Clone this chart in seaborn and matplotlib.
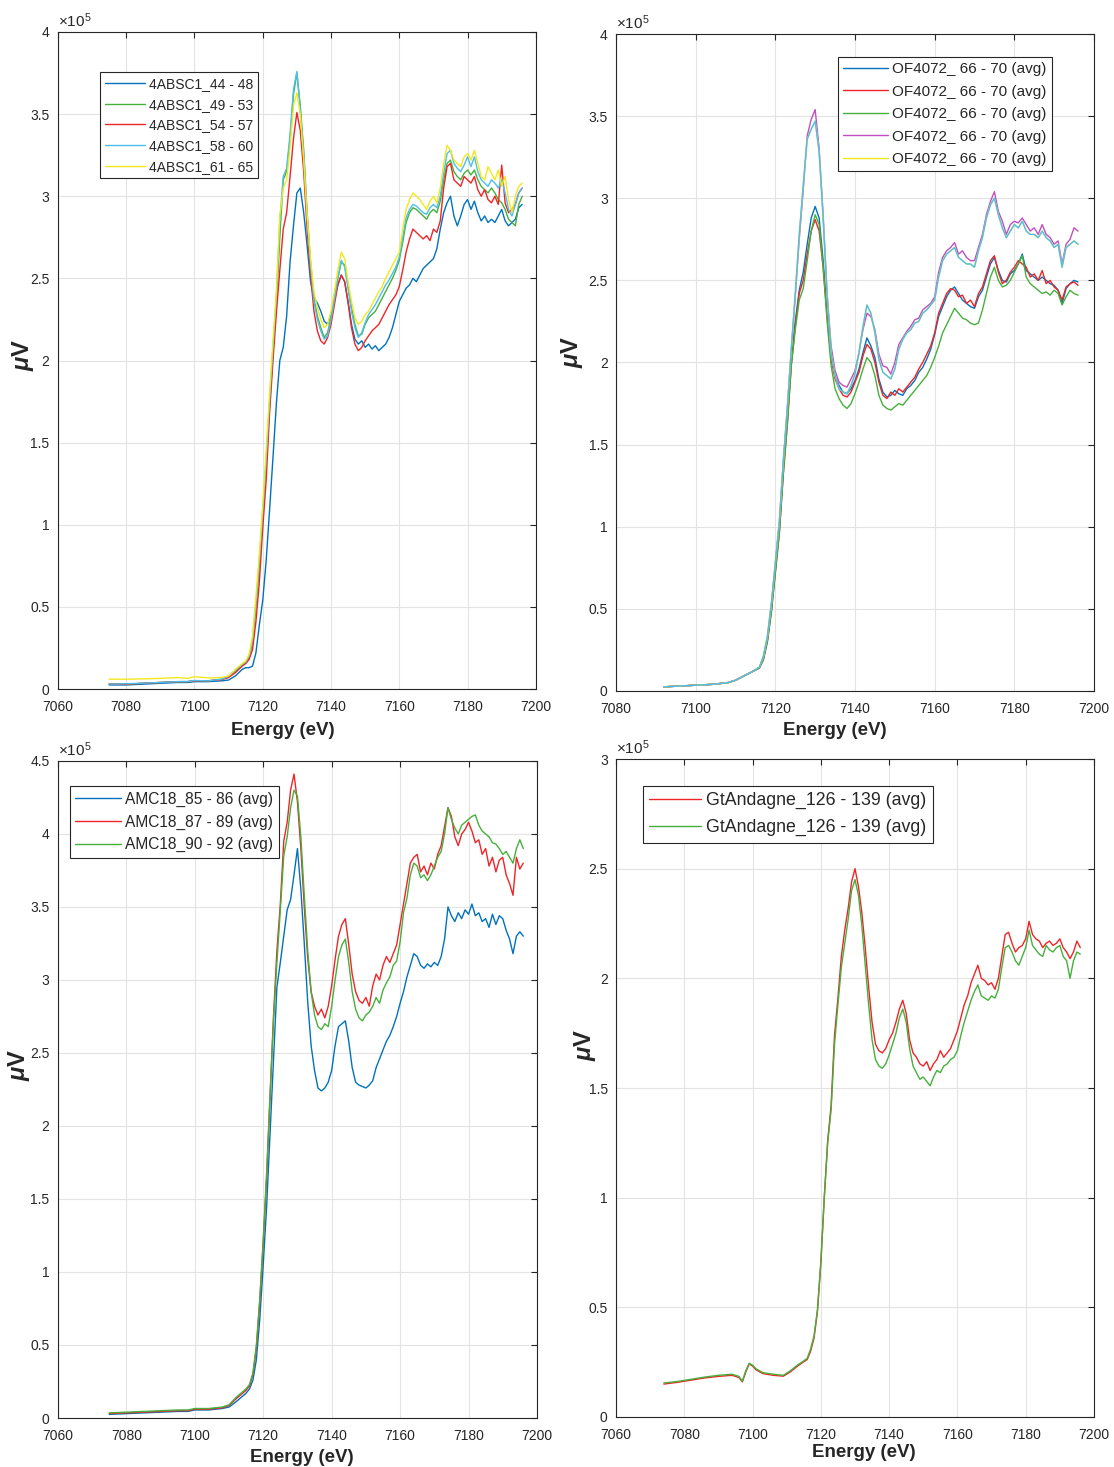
import numpy as np
import pandas as pd
import seaborn as sns
import matplotlib
matplotlib.use("Agg")
import matplotlib.pyplot as plt
from matplotlib.ticker import FuncFormatter, MultipleLocator

# ---- energie (eV) ----
MAIN_E = list(range(7118, 7197))   # 7118 ... 7196, krok 1 eV
E_TL = [7075, 7080, 7085, 7090, 7095, 7098, 7100, 7104, 7108, 7110,
        7112, 7114, 7115, 7116, 7117] + MAIN_E
E_TR = [7092, 7096, 7100, 7104, 7108, 7110, 7112, 7114, 7116, 7117] + MAIN_E
E_BL = list(E_TL)
E_BR = [7074, 7078, 7082, 7086, 7090, 7094, 7096, 7097, 7098, 7099,
        7100, 7101, 7103, 7106, 7109, 7111, 7113, 7115, 7116, 7117] + MAIN_E

# ---- panel 1: 4ABSC1 (x 1e5 uV) ----
abs_44_48 = [0.025, 0.025, 0.03, 0.035, 0.04, 0.04, 0.045, 0.045, 0.05, 0.055,
             0.08, 0.12, 0.13, 0.13, 0.14,
             0.22, 0.39, 0.54, 0.78, 1.09, 1.41, 1.74, 2.00, 2.08, 2.27,
             2.60, 2.82, 3.02, 3.05, 2.90, 2.70, 2.48, 2.38, 2.35, 2.30,
             2.24, 2.22, 2.28, 2.38, 2.46, 2.52, 2.48, 2.36, 2.22, 2.13,
             2.10, 2.12, 2.08, 2.10, 2.07, 2.09, 2.06, 2.08, 2.10, 2.14,
             2.20, 2.28, 2.36, 2.40, 2.44, 2.46, 2.50, 2.48, 2.52, 2.56,
             2.58, 2.60, 2.62, 2.68, 2.80, 2.90, 2.96, 3.00, 2.88, 2.82,
             2.88, 2.95, 2.98, 2.92, 2.97, 2.90, 2.85, 2.88, 2.84, 2.86,
             2.84, 2.88, 2.92, 2.85, 2.82, 2.84, 2.86, 2.93, 2.95]
abs_49_53 = [0.03, 0.03, 0.035, 0.04, 0.045, 0.045, 0.05, 0.05, 0.06, 0.075,
             0.11, 0.145, 0.16, 0.19, 0.28,
             0.50, 0.75, 1.05, 1.38, 1.72, 2.05, 2.35, 2.75, 3.10, 3.15,
             3.35, 3.62, 3.75, 3.55, 3.28, 2.90, 2.60, 2.38, 2.27, 2.20,
             2.14, 2.17, 2.26, 2.38, 2.50, 2.60, 2.58, 2.45, 2.32, 2.22,
             2.15, 2.16, 2.22, 2.26, 2.28, 2.30, 2.34, 2.38, 2.42, 2.46,
             2.50, 2.55, 2.61, 2.72, 2.84, 2.90, 2.93, 2.92, 2.90, 2.88,
             2.86, 2.90, 2.92, 2.90, 2.97, 3.10, 3.20, 3.22, 3.15, 3.12,
             3.10, 3.14, 3.16, 3.13, 3.16, 3.10, 3.06, 3.04, 3.02, 3.05,
             3.02, 2.98, 2.96, 2.92, 2.86, 2.84, 2.82, 2.95, 3.00]
abs_54_57 = [0.03, 0.03, 0.035, 0.04, 0.045, 0.045, 0.05, 0.05, 0.058, 0.07,
             0.10, 0.14, 0.155, 0.18, 0.24,
             0.41, 0.65, 0.98, 1.27, 1.68, 2.00, 2.29, 2.55, 2.80, 2.90,
             3.12, 3.35, 3.51, 3.40, 3.15, 2.80, 2.52, 2.30, 2.18, 2.12,
             2.10, 2.14, 2.22, 2.34, 2.46, 2.52, 2.48, 2.35, 2.20, 2.10,
             2.06, 2.08, 2.12, 2.15, 2.18, 2.20, 2.22, 2.26, 2.30, 2.34,
             2.37, 2.40, 2.45, 2.55, 2.66, 2.74, 2.80, 2.78, 2.76, 2.74,
             2.76, 2.73, 2.80, 2.78, 2.85, 3.05, 3.18, 3.20, 3.10, 3.08,
             3.06, 3.12, 3.10, 3.08, 3.12, 3.04, 3.00, 3.04, 2.98, 2.96,
             3.00, 2.95, 3.19, 2.96, 2.90, 2.92, 2.95, 3.02, 3.05]
abs_58_60 = [0.03, 0.032, 0.036, 0.04, 0.045, 0.046, 0.052, 0.05, 0.06, 0.078,
             0.115, 0.15, 0.165, 0.20, 0.30,
             0.52, 0.78, 1.08, 1.40, 1.75, 2.08, 2.40, 2.85, 3.12, 3.17,
             3.38, 3.65, 3.76, 3.52, 3.25, 2.88, 2.58, 2.36, 2.25, 2.18,
             2.13, 2.15, 2.25, 2.37, 2.50, 2.61, 2.57, 2.44, 2.30, 2.20,
             2.14, 2.17, 2.23, 2.28, 2.31, 2.34, 2.38, 2.42, 2.46, 2.49,
             2.53, 2.57, 2.63, 2.75, 2.87, 2.92, 2.95, 2.94, 2.92, 2.90,
             2.89, 2.93, 2.95, 2.93, 3.00, 3.14, 3.26, 3.28, 3.20, 3.17,
             3.15, 3.19, 3.24, 3.18, 3.24, 3.15, 3.10, 3.08, 3.06, 3.10,
             3.08, 3.05, 3.10, 3.02, 2.92, 2.88, 2.95, 3.02, 3.05]
abs_61_65 = [0.06, 0.06, 0.062, 0.065, 0.07, 0.065, 0.075, 0.068, 0.07, 0.08,
             0.12, 0.155, 0.17, 0.21, 0.32,
             0.56, 0.82, 1.12, 1.45, 1.80, 2.12, 2.42, 2.88, 3.05, 3.10,
             3.30, 3.55, 3.63, 3.50, 3.22, 2.88, 2.62, 2.42, 2.32, 2.25,
             2.20, 2.22, 2.30, 2.42, 2.55, 2.66, 2.62, 2.48, 2.36, 2.26,
             2.22, 2.24, 2.28, 2.30, 2.34, 2.38, 2.42, 2.45, 2.50, 2.54,
             2.58, 2.62, 2.66, 2.80, 2.92, 2.98, 3.02, 3.00, 2.98, 2.95,
             2.92, 2.97, 3.00, 2.96, 3.05, 3.20, 3.31, 3.28, 3.22, 3.20,
             3.18, 3.24, 3.26, 3.22, 3.28, 3.20, 3.12, 3.10, 3.18, 3.14,
             3.10, 3.16, 3.06, 3.12, 2.98, 2.90, 3.00, 3.06, 3.08]

# ---- panel 2: OF4072 ----
of_blue = [0.025, 0.03, 0.035, 0.04, 0.05, 0.065, 0.09, 0.115, 0.14, 0.20,
           0.31, 0.50, 0.74, 0.98, 1.35, 1.65, 2.00, 2.25, 2.44, 2.55,
           2.72, 2.88, 2.95, 2.88, 2.62, 2.30, 2.05, 1.92, 1.86, 1.82,
           1.81, 1.84, 1.89, 1.96, 2.06, 2.15, 2.10, 2.03, 1.90, 1.82,
           1.79, 1.80, 1.83, 1.81, 1.80, 1.84, 1.86, 1.89, 1.94, 1.97,
           2.02, 2.08, 2.17, 2.28, 2.34, 2.40, 2.44, 2.46, 2.42, 2.38,
           2.36, 2.34, 2.33, 2.40, 2.44, 2.52, 2.60, 2.64, 2.56, 2.50,
           2.49, 2.54, 2.56, 2.60, 2.66, 2.56, 2.54, 2.52, 2.50, 2.52,
           2.50, 2.48, 2.47, 2.44, 2.36, 2.45, 2.48, 2.50, 2.49]
of_red = [0.025, 0.03, 0.035, 0.04, 0.05, 0.065, 0.09, 0.115, 0.14, 0.19,
          0.30, 0.48, 0.72, 0.96, 1.32, 1.62, 1.98, 2.22, 2.42, 2.50,
          2.66, 2.80, 2.87, 2.80, 2.58, 2.28, 2.02, 1.90, 1.84, 1.80,
          1.79, 1.82, 1.88, 1.94, 2.04, 2.11, 2.08, 2.00, 1.88, 1.80,
          1.78, 1.82, 1.80, 1.84, 1.82, 1.85, 1.88, 1.91, 1.96, 2.00,
          2.05, 2.10, 2.18, 2.30, 2.36, 2.42, 2.45, 2.44, 2.40, 2.41,
          2.36, 2.38, 2.34, 2.42, 2.46, 2.54, 2.62, 2.65, 2.55, 2.48,
          2.50, 2.55, 2.58, 2.62, 2.60, 2.58, 2.52, 2.54, 2.50, 2.56,
          2.48, 2.50, 2.46, 2.44, 2.38, 2.46, 2.48, 2.49, 2.47]
of_green = [0.025, 0.03, 0.035, 0.04, 0.05, 0.065, 0.09, 0.115, 0.14, 0.19,
            0.30, 0.48, 0.72, 0.96, 1.32, 1.62, 1.98, 2.20, 2.38, 2.45,
            2.62, 2.80, 2.90, 2.84, 2.58, 2.25, 1.98, 1.84, 1.78, 1.74,
            1.72, 1.75, 1.81, 1.88, 1.96, 2.03, 2.00, 1.92, 1.80, 1.74,
            1.72, 1.71, 1.73, 1.75, 1.74, 1.77, 1.80, 1.83, 1.86, 1.89,
            1.92, 1.97, 2.03, 2.10, 2.18, 2.23, 2.28, 2.33, 2.30, 2.27,
            2.26, 2.24, 2.23, 2.24, 2.32, 2.42, 2.52, 2.58, 2.50, 2.46,
            2.47, 2.50, 2.55, 2.60, 2.65, 2.52, 2.48, 2.46, 2.44, 2.42,
            2.43, 2.41, 2.44, 2.42, 2.35, 2.40, 2.44, 2.42, 2.41]
of_magenta = [0.025, 0.03, 0.035, 0.04, 0.05, 0.065, 0.09, 0.115, 0.145, 0.21,
              0.33, 0.53, 0.78, 1.03, 1.40, 1.72, 2.08, 2.40, 2.75, 3.05,
              3.38, 3.48, 3.54, 3.30, 2.90, 2.42, 2.10, 1.95, 1.88, 1.86,
              1.85, 1.90, 1.95, 2.06, 2.20, 2.30, 2.28, 2.20, 2.05, 1.98,
              1.97, 1.93, 2.00, 2.11, 2.15, 2.19, 2.22, 2.26, 2.27, 2.32,
              2.34, 2.36, 2.40, 2.55, 2.64, 2.68, 2.70, 2.73, 2.66, 2.68,
              2.64, 2.62, 2.62, 2.70, 2.78, 2.90, 2.98, 3.04, 2.92, 2.86,
              2.78, 2.84, 2.86, 2.85, 2.88, 2.84, 2.80, 2.82, 2.78, 2.84,
              2.78, 2.76, 2.72, 2.74, 2.60, 2.72, 2.75, 2.82, 2.80]
of_cyan = [0.025, 0.03, 0.035, 0.04, 0.05, 0.065, 0.09, 0.115, 0.145, 0.21,
           0.33, 0.53, 0.78, 1.03, 1.40, 1.72, 2.08, 2.42, 2.78, 3.08,
           3.36, 3.42, 3.47, 3.28, 2.88, 2.40, 2.06, 1.92, 1.84, 1.82,
           1.81, 1.86, 1.93, 2.06, 2.22, 2.35, 2.30, 2.18, 2.02, 1.94,
           1.92, 1.90, 1.96, 2.08, 2.14, 2.18, 2.20, 2.24, 2.25, 2.30,
           2.32, 2.35, 2.38, 2.52, 2.62, 2.66, 2.68, 2.70, 2.64, 2.62,
           2.60, 2.60, 2.58, 2.68, 2.76, 2.88, 2.96, 3.00, 2.90, 2.82,
           2.76, 2.80, 2.84, 2.82, 2.86, 2.80, 2.78, 2.78, 2.76, 2.80,
           2.76, 2.74, 2.70, 2.72, 2.58, 2.70, 2.72, 2.74, 2.72]

# ---- panel 3: AMC18 ----
amc_85_86 = [0.025, 0.03, 0.035, 0.04, 0.045, 0.045, 0.055, 0.055, 0.065, 0.075,
             0.11, 0.15, 0.17, 0.20, 0.26,
             0.40, 0.68, 1.05, 1.45, 1.95, 2.45, 2.95, 3.12, 3.30, 3.48,
             3.55, 3.72, 3.90, 3.62, 3.25, 2.85, 2.55, 2.38, 2.26, 2.24,
             2.26, 2.30, 2.38, 2.55, 2.68, 2.70, 2.72, 2.58, 2.40, 2.30,
             2.28, 2.27, 2.26, 2.28, 2.31, 2.40, 2.46, 2.52, 2.58, 2.62,
             2.68, 2.75, 2.84, 2.92, 3.02, 3.10, 3.18, 3.16, 3.10, 3.08,
             3.11, 3.09, 3.12, 3.10, 3.16, 3.28, 3.50, 3.44, 3.40, 3.46,
             3.42, 3.48, 3.45, 3.52, 3.44, 3.46, 3.40, 3.42, 3.36, 3.45,
             3.38, 3.44, 3.42, 3.34, 3.28, 3.18, 3.30, 3.33, 3.30]
amc_87_89 = [0.03, 0.035, 0.04, 0.045, 0.05, 0.05, 0.06, 0.06, 0.07, 0.085,
             0.13, 0.17, 0.19, 0.22, 0.30,
             0.48, 0.80, 1.20, 1.65, 2.20, 2.75, 3.20, 3.52, 3.95, 4.08,
             4.30, 4.41, 4.22, 3.90, 3.50, 3.15, 2.92, 2.82, 2.76, 2.80,
             2.74, 2.82, 2.96, 3.14, 3.30, 3.38, 3.42, 3.24, 3.04, 2.92,
             2.86, 2.84, 2.88, 2.82, 2.96, 3.04, 3.00, 3.10, 3.16, 3.12,
             3.18, 3.24, 3.38, 3.52, 3.66, 3.80, 3.84, 3.86, 3.74, 3.78,
             3.72, 3.80, 3.76, 3.86, 3.92, 4.05, 4.18, 4.12, 3.98, 3.92,
             4.00, 4.03, 4.08, 4.02, 3.94, 3.96, 3.86, 3.90, 3.78, 3.84,
             3.74, 3.82, 3.84, 3.72, 3.66, 3.58, 3.84, 3.76, 3.80]
amc_90_92 = [0.035, 0.04, 0.045, 0.05, 0.055, 0.055, 0.065, 0.065, 0.075, 0.09,
             0.14, 0.18, 0.20, 0.23, 0.31,
             0.50, 0.82, 1.22, 1.68, 2.22, 2.72, 3.12, 3.48, 3.85, 3.98,
             4.18, 4.30, 4.26, 3.98, 3.58, 3.20, 2.92, 2.76, 2.68, 2.66,
             2.70, 2.68, 2.82, 3.00, 3.16, 3.24, 3.28, 3.12, 2.92, 2.80,
             2.74, 2.72, 2.76, 2.78, 2.82, 2.88, 2.84, 2.93, 2.98, 3.02,
             3.10, 3.13, 3.26, 3.46, 3.56, 3.72, 3.80, 3.78, 3.70, 3.72,
             3.68, 3.72, 3.78, 3.84, 3.88, 4.00, 4.18, 4.10, 4.04, 4.00,
             4.06, 4.08, 4.10, 4.12, 4.13, 4.06, 4.02, 4.00, 3.98, 3.94,
             3.93, 3.90, 3.86, 3.88, 3.84, 3.80, 3.90, 3.96, 3.90]

# ---- panel 4: GtAndagne ----
gt_red = [0.15, 0.158, 0.168, 0.178, 0.185, 0.19, 0.18, 0.16, 0.205, 0.242,
          0.232, 0.215, 0.198, 0.19, 0.186, 0.205, 0.23, 0.252, 0.262, 0.30,
          0.36, 0.48, 0.70, 1.00, 1.26, 1.42, 1.74, 1.91, 2.10, 2.22,
          2.32, 2.44, 2.50, 2.42, 2.30, 2.14, 1.96, 1.80, 1.70, 1.67,
          1.66, 1.68, 1.72, 1.75, 1.80, 1.86, 1.90, 1.84, 1.72, 1.66,
          1.64, 1.61, 1.60, 1.62, 1.58, 1.61, 1.63, 1.67, 1.64, 1.66,
          1.68, 1.72, 1.76, 1.82, 1.88, 1.92, 1.98, 2.02, 2.06, 2.00,
          1.99, 1.97, 1.98, 1.95, 2.00, 2.10, 2.20, 2.21, 2.16, 2.12,
          2.14, 2.15, 2.18, 2.26, 2.20, 2.18, 2.17, 2.14, 2.16, 2.17,
          2.15, 2.16, 2.18, 2.14, 2.12, 2.09, 2.12, 2.17, 2.14]
gt_green = [0.155, 0.162, 0.172, 0.182, 0.19, 0.195, 0.185, 0.163, 0.21, 0.245,
            0.236, 0.22, 0.202, 0.195, 0.19, 0.21, 0.235, 0.256, 0.267, 0.31,
            0.37, 0.49, 0.71, 1.00, 1.25, 1.40, 1.70, 1.88, 2.05, 2.16,
            2.27, 2.40, 2.45, 2.38, 2.24, 2.06, 1.88, 1.72, 1.63, 1.60,
            1.59, 1.61, 1.65, 1.70, 1.75, 1.82, 1.86, 1.80, 1.68, 1.60,
            1.57, 1.54, 1.55, 1.53, 1.51, 1.55, 1.58, 1.57, 1.60, 1.61,
            1.63, 1.64, 1.67, 1.74, 1.80, 1.85, 1.90, 1.94, 1.97, 1.92,
            1.91, 1.90, 1.92, 1.91, 1.95, 2.05, 2.14, 2.15, 2.12, 2.08,
            2.06, 2.10, 2.14, 2.22, 2.15, 2.13, 2.11, 2.10, 2.15, 2.13,
            2.12, 2.14, 2.15, 2.10, 2.08, 2.00, 2.08, 2.12, 2.11]

# kolory (MATLAB-like)
BLUE = "#0072BD"
RED = "#EE2528"
GREEN = "#46B03C"
CYAN = "#4DBEEE"
YELLOW = "#F3E81C"
MAGENTA = "#C14FC1"
INK = "#262626"

sns.set_style("white")
plt.rcParams["font.family"] = ["Liberation Sans", "DejaVu Sans"]
plt.rcParams["mathtext.fontset"] = "custom"
plt.rcParams["mathtext.rm"] = "Liberation Sans"
plt.rcParams["mathtext.it"] = "Liberation Sans:italic"
plt.rcParams["mathtext.bf"] = "Liberation Sans:bold:italic"

fig = plt.figure(figsize=(11.14, 14.67), dpi=100)


def draw_panel(rect, energy, series, xlim, ylim, legend_xy, legend_fs,
               legend_sp, ylab_xy, xlab_xy):
    ax = fig.add_axes(rect)
    for label, vals, color in series:
        sns.lineplot(x=energy, y=vals, ax=ax, color=color, linewidth=1.0,
                     label=label, sort=False, estimator=None)
    ax.set_xlim(*xlim)
    ax.set_ylim(*ylim)
    ax.xaxis.set_major_locator(MultipleLocator(20))
    ax.yaxis.set_major_locator(MultipleLocator(0.5))
    ax.yaxis.set_major_formatter(FuncFormatter(lambda v, p: f"{v:g}"))
    ax.grid(True, color="#e3e3e3", linewidth=0.8)
    ax.set_axisbelow(True)
    for sp in ax.spines.values():
        sp.set_color(INK)
        sp.set_linewidth(0.8)
    ax.tick_params(direction="in", top=True, right=True, length=4,
                   width=0.8, color=INK, labelcolor=INK, labelsize=10)
    ax.tick_params(axis="x", pad=8)
    ax.tick_params(axis="y", pad=6)
    ax.text(0.0, 1.003, r"$\times10^{5}$", transform=ax.transAxes,
            ha="left", va="bottom", fontsize=11, color=INK)
    ax.set_xlabel("Energy (eV)", fontsize=13.5, fontweight="bold", color=INK)
    ax.xaxis.set_label_coords(*xlab_xy)
    ax.set_ylabel(r"$\mathbf{\mu}$V", fontsize=17, fontweight="bold", color=INK)
    ax.yaxis.set_label_coords(*ylab_xy)
    leg = ax.legend(loc="upper left", bbox_to_anchor=legend_xy,
                    bbox_transform=fig.transFigure, fontsize=legend_fs,
                    frameon=True, fancybox=False, framealpha=1,
                    edgecolor=INK, handlelength=2.9, handletextpad=0.3,
                    labelspacing=legend_sp, borderpad=0.35, borderaxespad=0)
    leg.get_frame().set_linewidth(0.8)
    for t in leg.get_texts():
        t.set_color(INK)
    return ax


draw_panel([0.052, 0.5303, 0.429, 0.4479], E_TL,
           [("4ABSC1_44 - 48", abs_44_48, BLUE),
            ("4ABSC1_49 - 53", abs_49_53, GREEN),
            ("4ABSC1_54 - 57", abs_54_57, RED),
            ("4ABSC1_58 - 60", abs_58_60, CYAN),
            ("4ABSC1_61 - 65", abs_61_65, YELLOW)],
           (7060, 7200), (0, 4), (0.0898, 0.9509), 10, 0.48,
           (-0.046, 0.508), (0.471, -0.05))

draw_panel([0.553, 0.529, 0.429, 0.4478], E_TR,
           [("OF4072_ 66 - 70 (avg)", of_blue, BLUE),
            ("OF4072_ 66 - 70 (avg)", of_red, RED),
            ("OF4072_ 66 - 70 (avg)", of_green, GREEN),
            ("OF4072_ 66 - 70 (avg)", of_magenta, MAGENTA),
            ("OF4072_ 66 - 70 (avg)", of_cyan, YELLOW),
            ("_nolegend_", of_cyan, CYAN)],
           (7080, 7200), (0, 4), (0.7522, 0.9611), 11, 0.55,
           (-0.065, 0.516), (0.458, -0.047))

draw_panel([0.052, 0.0334, 0.430, 0.4479], E_BL,
           [("AMC18_85 - 86 (avg)", amc_85_86, BLUE),
            ("AMC18_87 - 89 (avg)", amc_87_89, RED),
            ("AMC18_90 - 92 (avg)", amc_90_92, GREEN)],
           (7060, 7200), (0, 4.5), (0.0628, 0.4642), 11.2, 0.5,
           (-0.054, 0.537), (0.51, -0.047))

draw_panel([0.553, 0.0341, 0.429, 0.4485], E_BR,
           [("GtAndagne_126 - 139 (avg)", gt_red, RED),
            ("GtAndagne_126 - 139 (avg)", gt_green, GREEN)],
           (7060, 7200), (0, 3), (0.5772, 0.4642), 12.8, 0.55,
           (-0.038, 0.566), (0.519, -0.041))

fig.savefig("out.png", dpi=100, facecolor="white")
